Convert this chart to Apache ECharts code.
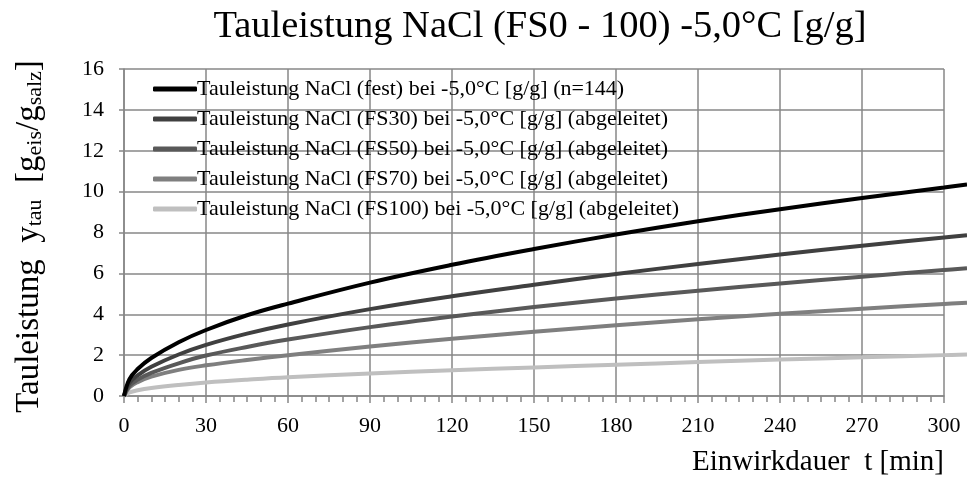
<!DOCTYPE html>
<html>
<head>
<meta charset="utf-8">
<script src="https://cdn.jsdelivr.net/npm/echarts@6/dist/echarts.min.js"></script>
<style>
  html, body { margin: 0; padding: 0; background: #fff; }
  #chart { width: 967px; height: 481px; }
</style>
</head>
<body>
<div id="chart"></div>
<script>
// Einwirkdauer t [min] (the curves run on a bit past 300, to the picture edge)
const times = [0, 2, 5, 10, 20, 30, 45, 60, 90, 120, 150, 180, 210, 240, 270, 300, 308.4]

// Tauleistung [g/g]
const fest = [0, 0.83, 1.32, 1.86, 2.63, 3.23, 3.95, 4.52, 5.55, 6.42, 7.19, 7.9, 8.55, 9.14, 9.69, 10.2, 10.35]
const fs30 = [0, 0.64, 1.01, 1.43, 2.03, 2.5, 3.05, 3.5, 4.25, 4.88, 5.44, 5.97, 6.46, 6.92, 7.35, 7.76, 7.87]
const fs50 = [0, 0.5, 0.8, 1.13, 1.6, 1.98, 2.4, 2.76, 3.37, 3.89, 4.35, 4.77, 5.15, 5.5, 5.84, 6.16, 6.25]
const fs70 = [0, 0.42, 0.68, 0.95, 1.28, 1.5, 1.76, 1.99, 2.42, 2.8, 3.14, 3.46, 3.75, 4.02, 4.27, 4.5, 4.56]
const fs100 = [0, 0.17, 0.28, 0.39, 0.54, 0.66, 0.8, 0.92, 1.1, 1.26, 1.4, 1.53, 1.66, 1.78, 1.89, 2.0, 2.03]

const seriesNames = [
  'Tauleistung NaCl (fest) bei -5,0°C [g/g] (n=144)',
  'Tauleistung NaCl (FS30) bei -5,0°C [g/g] (abgeleitet)',
  'Tauleistung NaCl (FS50) bei -5,0°C [g/g] (abgeleitet)',
  'Tauleistung NaCl (FS70) bei -5,0°C [g/g] (abgeleitet)',
  'Tauleistung NaCl (FS100) bei -5,0°C [g/g] (abgeleitet)'
]
const seriesValues = [fest, fs30, fs50, fs70, fs100]
const seriesColors = ['#000000', '#404040', '#595959', '#7f7f7f', '#bfbfbf']

const FONT = '"Liberation Serif", "Times New Roman", serif'
const GRID = '#878787'

const chart = echarts.init(document.getElementById('chart'))

chart.setOption({
  animation: false,
  backgroundColor: '#fff',
  textStyle: { fontFamily: FONT, color: '#000' },
  title: {
    text: 'Tauleistung NaCl (FS0 - 100) -5,0°C [g/g]',
    left: 535,
    textAlign: 'center',
    top: 2,
    textStyle: { fontFamily: FONT, fontSize: 38.5, fontWeight: 'normal', color: '#000' }
  },
  legend: {
    orient: 'vertical',
    left: 148,
    top: 69,
    itemGap: 0,
    itemWidth: 44,
    itemHeight: 5,
    icon: 'roundRect',
    data: seriesNames,
    textStyle: { fontFamily: FONT, fontSize: 22, color: '#000', lineHeight: 30, padding: [0, 0, 0, -5] }
  },
  // grid 0 carries the visible axes, grid 1 (same scale, reaching the right edge) carries the curves
  grid: [
    { left: 124, right: 23, top: 69, bottom: 85 },
    { left: 124, right: 0, top: 69, bottom: 85 }
  ],
  xAxis: [
    {
      type: 'value',
      gridIndex: 0,
      min: 0,
      max: 300,
      interval: 30,
      name: 'Einwirkdauer  t [min]',
      nameLocation: 'end',
      nameGap: 0,
      nameTextStyle: {
        fontFamily: FONT,
        fontSize: 29,
        color: '#000',
        align: 'right',
        verticalAlign: 'top',
        padding: [52, 0, 0, 0]
      },
      axisLine: { lineStyle: { color: GRID, width: 1.5 } },
      axisTick: { show: true, length: 7, lineStyle: { color: GRID, width: 1.5 } },
      minorTick: { show: true, splitNumber: 6, length: 6, lineStyle: { color: GRID, width: 1.5 } },
      axisLabel: { fontFamily: FONT, fontSize: 22, color: '#000', margin: 19 },
      splitLine: { show: true, lineStyle: { color: GRID, width: 1.5 } }
    },
    { type: 'value', gridIndex: 1, min: 0, max: 308.4, show: false }
  ],
  yAxis: [
    {
      type: 'value',
      gridIndex: 0,
      min: 0,
      max: 16,
      interval: 2,
      name: '{m|Tauleistung  y}{s|tau}{m|  [g}{s|eis}{m|/g}{s|salz}{m|]}',
      nameLocation: 'middle',
      nameRotate: 90,
      nameGap: 78,
      nameTextStyle: {
        padding: [0, 8, 0, 0],
        rich: {
          m: { fontFamily: FONT, fontSize: 33, color: '#000', lineHeight: 38, verticalAlign: 'bottom' },
          s: { fontFamily: FONT, fontSize: 22, color: '#000', lineHeight: 22, verticalAlign: 'bottom' }
        }
      },
      axisLine: { show: true, lineStyle: { color: GRID, width: 1.5 } },
      axisTick: { show: true, length: 5, lineStyle: { color: GRID, width: 1.5 } },
      axisLabel: { fontFamily: FONT, fontSize: 22, color: '#000', margin: 20 },
      splitLine: { show: true, lineStyle: { color: GRID, width: 1.5 } }
    },
    { type: 'value', gridIndex: 1, min: 0, max: 16, show: false }
  ],
  series: seriesNames.map((name, i) => ({
    name,
    type: 'line',
    xAxisIndex: 1,
    yAxisIndex: 1,
    data: times.map((t, j) => [t, seriesValues[i][j]]),
    smooth: 0.4,
    showSymbol: false,
    color: seriesColors[i],
    lineStyle: { width: 4, color: seriesColors[i] },
    z: 10 - i
  }))
})
</script>
</body>
</html>
